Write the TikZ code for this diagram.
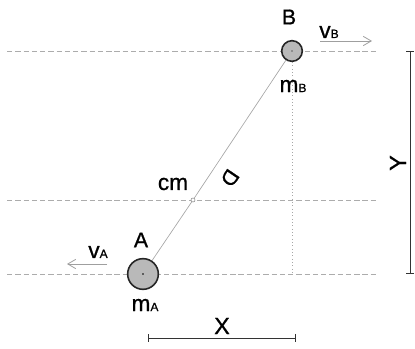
\documentclass[tikz,border=0pt]{standalone}
\usepackage{fontspec}
\setmainfont[FakeBold=0.8,AutoFakeBold=0.8]{Liberation Sans}
\usetikzlibrary{arrows.meta}

\newcommand{\quant}[2]{{\fontsize{17}{19}\selectfont #1}{\fontsize{9}{10}\selectfont #2}}

\tikzset{
	every node/.style={font=\bfseries},
	guide/.style={draw=gray!65, dash pattern=on 4pt off 2.2pt, line width=0.6pt},
	mass/.style={circle, draw=black!85, line width=1.2pt, fill=gray!55, inner sep=0pt},
	speed/.style={draw=gray!75, line width=0.6pt, -{Straight Barb[length=6pt,width=7pt]}},
	measure/.style={draw=gray!40!black, line width=0.7pt, {Bar[width=6pt]}-{Bar[width=6pt]}},
	big/.style={font=\bfseries\fontsize{16}{18}\selectfont},
	huge/.style={font=\bfseries\fontsize{17.5}{20}\selectfont}
}

\begin{document}
\begin{tikzpicture}[x=0.75pt, y=-0.75pt]
			\useasboundingbox (0,0) rectangle (415,349);
			\foreach \y in { 51,200,274 }
			\draw[guide] (7,\y) -- (378,\y);
			\node[mass, minimum size=23pt] (A) at (143,274) {};
			\node[mass, minimum size=15.5pt] (B) at (292,51) {};
			\node[circle, draw=gray, fill=white, inner sep=0pt, minimum size=3pt] (cm) at (193,200) {};
			\fill (A.center) circle (0.7pt);
			\fill (B.center) circle (0.5pt);
			\coordinate (foot) at (292,274);
			\draw[gray!70, dotted, line width=0.5pt] (B) -- (foot);
			\draw[gray!70, line width=0.5pt] (A) -- (cm) -- (B);
			\node[big] (nameB) at (289,17) {B};
			\node (mB) at (293,86) {\quant{m}{B}};
			\node (vB) at (329,32) {\quant{v}{B}};
			\coordinate (vBtail) at (320,41);
			\coordinate (vBhead) at (372,41);
			\draw[speed] (vBtail) -- (vBhead);
			\node[big] (nameA) at (141,240) {A};
			\node (mA) at (145,305) {\quant{m}{A}};
			\node (vA) at (98,252) {\quant{v}{A}};
			\coordinate (vAtail) at (107,264);
			\coordinate (vAhead) at (67,264);
			\draw[speed] (vAtail) -- (vAhead);
			\node (namecm) at (173,184) {\fontsize{17}{19}\selectfont cm};
			\node[big, rotate=-124] (nameD) at (230,178) {D};
			\coordinate (ytop) at (410,51);
			\coordinate (ybot) at (410,274);
			\draw[measure] (ytop) -- (ybot);
			\node[huge, rotate=90] (nameY) at (398,163) {Y};
			\coordinate (xleft) at (148,338);
			\coordinate (xright) at (296,338);
			\draw[measure] (xleft) -- (xright);
			\node[huge] (nameX) at (222,326) {X};
	\end{tikzpicture}
\end{document}
